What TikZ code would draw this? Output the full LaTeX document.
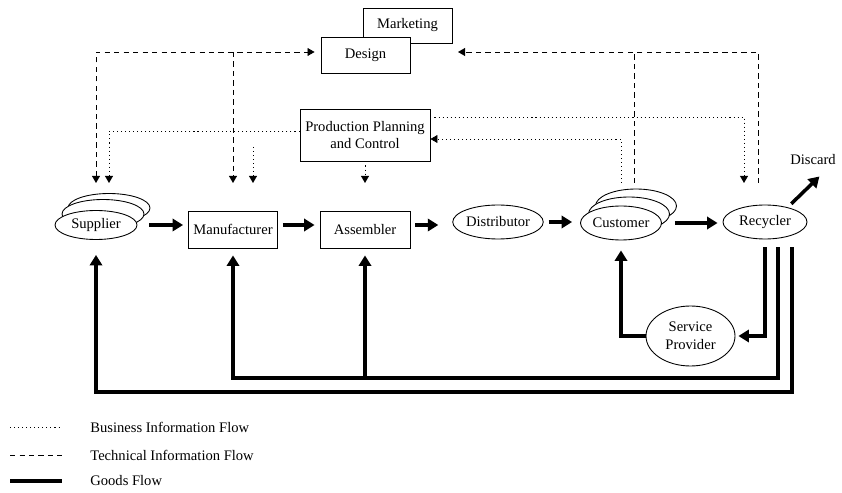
\documentclass[tikz,border=0pt]{standalone}
\usepackage{fontspec}
\setmainfont{Liberation Serif}
\usetikzlibrary{shapes,arrows.meta}

\begin{document}
\begin{tikzpicture}[x=0.02cm,y=-0.02cm]
      \tikzstyle{every node}=[font={\fontsize{8.3}{10.2}\selectfont},inner sep=0pt]
      \tikzstyle{blk}=[rectangle,draw,line width=0.5pt,fill=white,minimum height=0.74cm]
      \tikzstyle{oval}=[ellipse,draw,line width=0.5pt,fill=white,minimum width=1.64cm,minimum height=0.58cm]
      \tikzstyle{goods}=[line width=2pt,>={Triangle[length=6pt,width=7pt]},->,shorten >=0.1cm,shorten <=0.1cm]
      \tikzstyle{tech}=[line width=0.5pt,dash pattern=on 3pt off 2.4pt,>={Triangle[length=4pt,width=4.5pt]}]
      \tikzstyle{bus}=[line width=0.5pt,dash pattern=on 0.6pt off 1.7pt,>={Triangle[length=4pt,width=4.5pt]}]
      \useasboundingbox (0,0) rectangle (842,493);
      % upper boxes
      \node[blk,minimum width=1.78cm,minimum height=0.7cm] (mkt) at (407.5,25.5) {Marketing};
      \node[blk,minimum width=1.78cm,minimum height=0.72cm] (des) at (365.5,55) {Design};
      \node[blk,minimum width=2.6cm,minimum height=1.04cm,align=center] (ppc) at (365,135) {Production Planning\\and Control};
      % main chain
      \node[oval] (supb) at (109,208) {};
      \node[oval] (supm) at (103,214) {};
      \node[oval] (sup) at (96,225) {Supplier};
      \node[blk,minimum width=1.78cm] (man) at (233,229.5) {Manufacturer};
      \node[blk,minimum width=1.8cm] (asm) at (365,229.5) {Assembler};
      \node[oval,minimum height=0.68cm] (dis) at (498,222) {Distributor};
      \node[oval,minimum width=1.62cm,minimum height=0.68cm] (cusb) at (636,206) {};
      \node[oval,minimum width=1.62cm,minimum height=0.68cm] (cusm) at (629,214) {};
      \node[oval,minimum width=1.62cm,minimum height=0.68cm] (cus) at (621,223) {Customer};
      \node[oval,minimum width=1.68cm,minimum height=0.68cm] (rec) at (765,222) {Recycler};
      \node (dsc) at (813,160) {Discard};
      \node[oval,minimum width=1.78cm,minimum height=1.2cm,align=center] (srv) at (690.5,336) {Service\\Provider};
      \coordinate (dscin) at (823,173);
      \coordinate (tips) at (0,183);
      \coordinate (techtop) at (0,52);
      \coordinate (techin) at (458,52);
      \coordinate (mfgbus) at (253,147);
      \coordinate (rail1) at (0,378);
      \coordinate (rail2) at (0,392);
      % goods flow
      \draw[goods] (supm.east |- sup) -- (man.west |- sup);
      \draw[goods] (man.east |- sup) -- (asm.west |- sup);
      \draw[goods,shorten >=0.28cm] (asm.east |- sup) -- (dis.west |- sup);
      \draw[goods,shorten >=0.16cm] (dis.east) -- (cus.west |- dis.east);
      \draw[goods] (cusm.east |- cus) -- (rec.west |- cus);
      \draw[goods] (rec.33) -- (dscin);
      \draw[goods,shorten <=0.16cm,shorten >=0.06cm] (rec.south) |- (srv.east);
      \draw[goods,shorten <=0pt,shorten >=0.2cm] (srv.west) -| (cus.south);
      \draw[goods,shorten <=0.16cm,shorten >=0.14cm] ([xshift=0.26cm]rec.south) |- (man.south |- rail1) -- (man.south);
      \draw[goods,shorten <=0pt,shorten >=0.14cm] (asm.south |- rail1) -- (asm.south);
      \draw[goods,shorten <=0.16cm,shorten >=0.3cm] ([xshift=0.54cm]rec.south) |- (sup.south |- rail2) -- (sup.south);
      % technical information
      \draw[tech,<->,shorten >=0.12cm] (sup.north |- tips) |- (des.west |- techtop);
      \draw[tech,->] (man.north |- techtop) -- (man.north |- tips);
      \draw[tech,->] ([xshift=-0.14cm]rec.north |- tips) |- (techin);
      \draw[tech] ([xshift=0.26cm]cus.north |- tips) -- ([xshift=0.26cm]cus.north |- techtop);
      % business information
      \draw[bus,->] ([yshift=0.08cm]ppc.west) -| (supb.north |- tips);
      \draw[bus,->] (mfgbus) -- (mfgbus |- tips);
      \draw[bus,->] (ppc.south) -- (ppc.south |- tips);
      \draw[bus,->] ([yshift=0.36cm]ppc.east) -| ([xshift=-0.42cm]rec.north |- tips);
      \draw[bus,->] (cus.north |- tips) |- ([yshift=-0.08cm]ppc.east);
      % legend
      \node[anchor=west] (lgbus) at (90,427) {Business Information Flow};
      \node[anchor=west] (lgtech) at (90,455) {Technical Information Flow};
      \node[anchor=west] (lggoods) at (90,481) {Goods Flow};
      \draw[bus] ([xshift=-1.6cm]lgbus.west) -- ([xshift=-0.56cm]lgbus.west);
      \draw[tech] ([xshift=-1.6cm]lgtech.west) -- ([xshift=-0.56cm]lgtech.west);
      \draw[goods,-,shorten <=0pt,shorten >=0pt,line width=2.6pt] ([xshift=-1.6cm]lggoods.west) -- ([xshift=-0.56cm]lggoods.west);
\end{tikzpicture}
\end{document}
